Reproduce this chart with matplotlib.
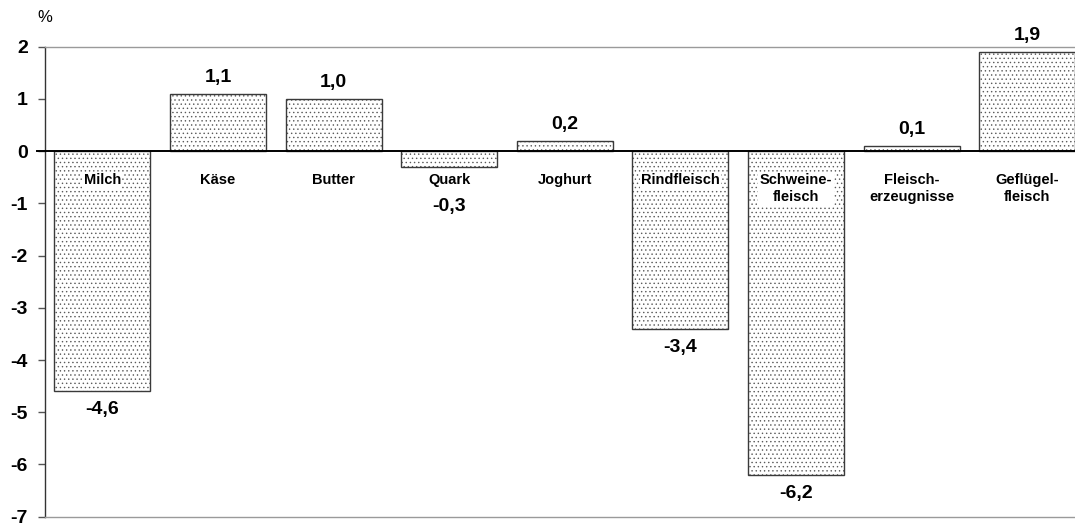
import matplotlib
matplotlib.use("Agg")
import matplotlib.pyplot as plt
from matplotlib.transforms import blended_transform_factory

categories = ["Milch", "Käse", "Butter", "Quark", "Joghurt", "Rindfleisch",
              "Schweine-\nfleisch", "Fleisch-\nerzeugnisse", "Geflügel-\nfleisch"]
values = [-4.6, 1.1, 1.0, -0.3, 0.2, -3.4, -6.2, 0.1, 1.9]
value_labels = ["-4,6", "1,1", "1,0", "-0,3", "0,2", "-3,4", "-6,2", "0,1", "1,9"]
yticks = [2, 1, 0, -1, -2, -3, -4, -5, -6, -7]

plt.rcParams["font.family"] = ["Liberation Sans", "DejaVu Sans"]
plt.rcParams["hatch.linewidth"] = 0.5

fig = plt.figure(figsize=(10.75, 5.25), dpi=100)
ax = fig.add_axes([0.0414, 0.0158, 0.968, 0.8952])

x = list(range(len(categories)))
# dotted fill (hatch takes the edge colour, so it is drawn as its own layer)
ax.bar(x, values, width=0.83, color="white", edgecolor="#5a5a5a",
       linewidth=0, hatch="....", zorder=2)
# bar outlines
ax.bar(x, values, width=0.83, fill=False, edgecolor="#3a3a3a",
       linewidth=1.0, zorder=2.5)

ax.set_xlim(-0.5, len(categories) - 0.5)
ax.set_ylim(-7, 2)
ax.set_yticks(yticks)
ax.set_yticklabels([str(t) for t in yticks], fontsize=14, fontweight="bold")
ax.tick_params(axis="y", direction="out", length=5, width=1, color="#555555", pad=7)
ax.set_xticks([])

for side in ("top", "bottom"):
    ax.spines[side].set_color("#9a9a9a")
    ax.spines[side].set_linewidth(1.0)
ax.spines["right"].set_visible(False)
ax.spines["left"].set_color("#333333")
ax.spines["left"].set_linewidth(1.0)

# zero line, reaching slightly left of the axis like a tick
trans = blended_transform_factory(ax.transAxes, ax.transData)
ax.plot([-0.007, 1.0], [0, 0], color="black", linewidth=1.4, transform=trans,
        clip_on=False, zorder=3)

# category labels just below the zero line, on a white ground
for xi, name in zip(x, categories):
    ax.text(xi, -0.42, name, ha="center", va="top", fontsize=10.5,
            fontweight="bold", linespacing=1.25, zorder=4,
            bbox=dict(facecolor="white", edgecolor="none", pad=1.0))

# value labels
for xi, v, lab in zip(x, values, value_labels):
    if v >= 0:
        ax.annotate(lab, (xi, v), xytext=(0, 12), textcoords="offset pixels",
                    ha="center", va="baseline", fontsize=14, fontweight="bold")
    else:
        ax.annotate(lab, (xi, min(v, -0.7)), xytext=(0, -10),
                    textcoords="offset pixels", ha="center", va="top",
                    fontsize=14, fontweight="bold")

fig.text(45 / 1075, 1 - 17 / 525, "%", ha="center", va="center", fontsize=12)

fig.savefig("out.png", dpi=100)
